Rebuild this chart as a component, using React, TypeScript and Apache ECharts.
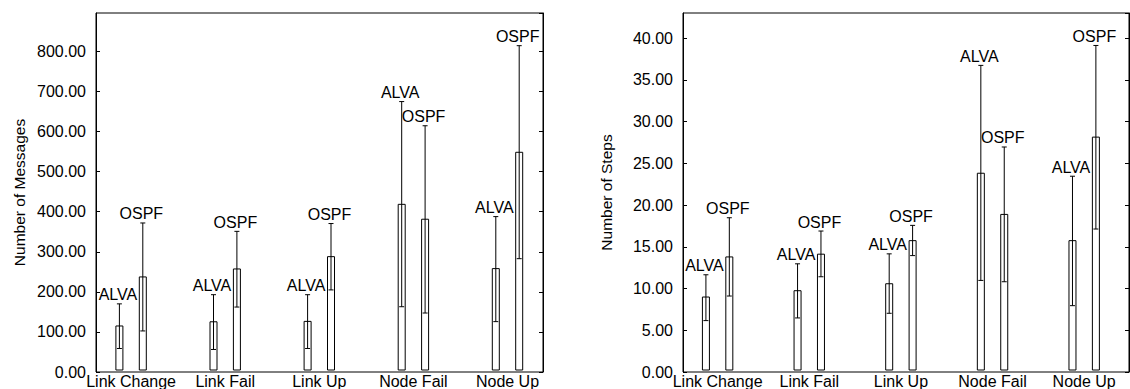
import React, { useEffect, useRef } from "react";
import * as echarts from "echarts";

const categories = ["Link Change", "Link Fail", "Link Up", "Node Fail", "Node Up"];

// Left chart: Number of Messages
const alvaMsgMean = [110.5, 121, 122, 415.8, 254.5];
const alvaMsgLow = [54, 51.5, 54, 158.8, 121.4];
const alvaMsgHigh = [166, 189, 189, 673.7, 385];
const ospfMsgMean = [233.6, 253.6, 284.5, 378.4, 546.4];
const ospfMsgLow = [98, 158, 201, 143, 279.4];
const ospfMsgHigh = [369, 348, 367.6, 613, 814];

// Right chart: Number of Steps
const alvaStepMean = [8.79, 9.55, 10.39, 23.7, 15.58];
const alvaStepLow = [5.95, 6.27, 6.83, 10.79, 7.75];
const alvaStepHigh = [11.47, 12.79, 13.99, 36.69, 23.34];
const ospfStepMean = [13.62, 13.95, 15.58, 18.74, 28.05];
const ospfStepLow = [8.91, 11.23, 13.78, 10.63, 16.98];
const ospfStepHigh = [18.34, 16.74, 17.42, 26.86, 39.09];

const msgMax = 896;
const stepMax = 43;

const FONT = '"Liberation Sans", Arial, Helvetica, sans-serif';
const FS = 16;

function makeData(mean: number[], low: number[], high: number[]) {
  return categories.map((_, i) => [i, mean[i], low[i], high[i]]);
}

function makeRenderer(offset: number, label: string) {
  return (params: any, api: any) => {
    const i = api.value(0);
    const base = api.coord([i, 0]);
    const top = api.coord([i, api.value(1)]);
    const lo = api.coord([i, api.value(2)]);
    const hi = api.coord([i, api.value(3)]);
    const cx = base[0] + offset;
    const capW = 2.5;
    const stroke = { stroke: "#000", lineWidth: 1 };
    return {
      type: "group",
      children: [
        {
          type: "rect",
          shape: { x: cx - 3.5, y: top[1], width: 7, height: base[1] - top[1] },
          style: { fill: "#fff", stroke: "#000", lineWidth: 1 },
        },
        { type: "line", shape: { x1: cx, y1: lo[1], x2: cx, y2: hi[1] }, style: stroke },
        { type: "line", shape: { x1: cx - capW, y1: lo[1], x2: cx + capW, y2: lo[1] }, style: stroke },
        { type: "line", shape: { x1: cx - capW, y1: hi[1], x2: cx + capW, y2: hi[1] }, style: stroke },
        {
          type: "text",
          x: cx - 1.5,
          y: hi[1] - 1,
          style: {
            text: label,
            fill: "#000",
            fontSize: FS,
            fontFamily: FONT,
            align: "center",
            verticalAlign: "bottom",
          },
        },
      ],
    };
  };
}

function frameX(gridIndex: number) {
  return {
    gridIndex,
    type: "value",
    min: 0,
    max: 1,
    show: false,
  };
}

function catX(gridIndex: number) {
  return {
    gridIndex,
    type: "category",
    data: categories,
    axisLine: { show: false },
    axisTick: { show: false },
    splitLine: { show: false },
    axisLabel: { interval: 0, fontSize: FS, color: "#000", fontFamily: FONT, margin: 3 },
  };
}

function leftY(gridIndex: number, max: number, interval: number, name: string) {
  return {
    gridIndex,
    type: "value",
    position: "left",
    min: 0,
    max,
    interval,
    name,
    nameLocation: "middle",
    nameGap: 69,
    nameTextStyle: { fontSize: 15.5, color: "#000", fontFamily: FONT },
    axisLine: { show: true, lineStyle: { color: "#000", width: 1 } },
    axisTick: { show: true, inside: true, length: 4, lineStyle: { color: "#000" } },
    splitLine: { show: false },
    axisLabel: {
      fontSize: FS,
      color: "#000",
      fontFamily: FONT,
      margin: 10,
      showMaxLabel: false,
      formatter: (v: number) => (v > max - interval / 2 && v % interval !== 0 ? "" : v.toFixed(2)),
    },
  };
}

function rightY(gridIndex: number, max: number, interval: number) {
  return {
    gridIndex,
    type: "value",
    position: "right",
    min: 0,
    max,
    interval,
    axisLine: { show: true, lineStyle: { color: "#000", width: 1 } },
    axisTick: { show: true, inside: true, length: 4, lineStyle: { color: "#000" } },
    splitLine: { show: false },
    axisLabel: { show: false },
  };
}

function hiddenY(gridIndex: number, max: number) {
  return { gridIndex, type: "value", min: 0, max, show: false, splitLine: { show: false } };
}

export default function App() {
  const ref = useRef<HTMLDivElement>(null);

  useEffect(() => {
    if (!ref.current) return;
    const chart = echarts.init(ref.current, undefined, { renderer: "svg" });
    const option: any = {
      animation: false,
      backgroundColor: "#fff",
      textStyle: { fontFamily: FONT },
      grid: [
        { left: 96, top: 13, width: 447, height: 359, show: true, borderColor: "#000", borderWidth: 1, backgroundColor: "transparent" },
        { left: 84.05, top: 13, width: 470.5, height: 359 },
        { left: 683, top: 13, width: 446, height: 359, show: true, borderColor: "#000", borderWidth: 1, backgroundColor: "transparent" },
        { left: 671.8, top: 13, width: 470, height: 359 },
      ],
      xAxis: [frameX(0), catX(1), frameX(2), catX(3)],
      yAxis: [
        leftY(0, msgMax, 100, "Number of Messages"),
        rightY(0, msgMax, 100),
        hiddenY(1, msgMax),
        leftY(2, stepMax, 5, "Number of Steps"),
        rightY(2, stepMax, 5),
        hiddenY(3, stepMax),
      ],
      series: [
        {
          type: "custom",
          xAxisIndex: 1,
          yAxisIndex: 2,
          renderItem: makeRenderer(-11.7, "ALVA"),
          data: makeData(alvaMsgMean, alvaMsgLow, alvaMsgHigh),
          encode: { x: 0, y: [1, 2, 3] },
        },
        {
          type: "custom",
          xAxisIndex: 1,
          yAxisIndex: 2,
          renderItem: makeRenderer(11.7, "OSPF"),
          data: makeData(ospfMsgMean, ospfMsgLow, ospfMsgHigh),
          encode: { x: 0, y: [1, 2, 3] },
        },
        {
          type: "custom",
          xAxisIndex: 3,
          yAxisIndex: 5,
          renderItem: makeRenderer(-11.7, "ALVA"),
          data: makeData(alvaStepMean, alvaStepLow, alvaStepHigh),
          encode: { x: 0, y: [1, 2, 3] },
        },
        {
          type: "custom",
          xAxisIndex: 3,
          yAxisIndex: 5,
          renderItem: makeRenderer(11.7, "OSPF"),
          data: makeData(ospfStepMean, ospfStepLow, ospfStepHigh),
          encode: { x: 0, y: [1, 2, 3] },
        },
      ],
    };
    chart.setOption(option);
    return () => chart.dispose();
  }, []);

  return (
    <div
      ref={ref}
      style={{ position: "fixed", left: 0, top: 0, width: 1130, height: 389, background: "#fff" }}
    />
  );
}
